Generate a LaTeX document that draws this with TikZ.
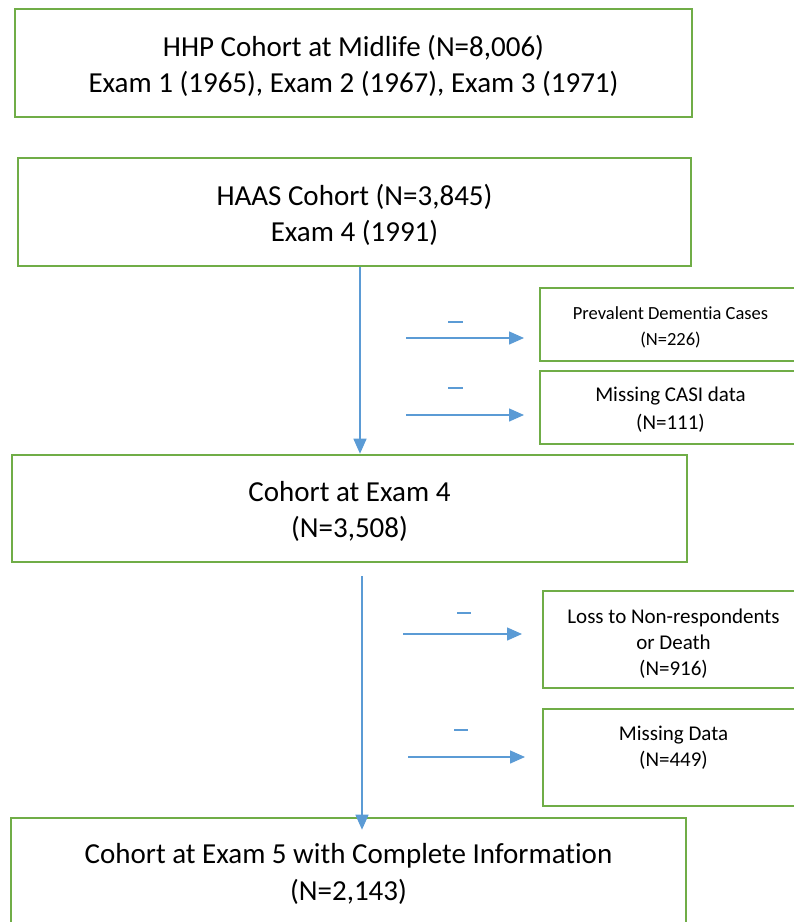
\documentclass[tikz,border=0pt]{standalone}
\usepackage{fontspec}
\setmainfont{Carlito}[Ligatures=NoCommon]
\usetikzlibrary{arrows.meta}
\definecolor{boxgreen}{HTML}{70AD47}
\definecolor{arrblue}{HTML}{5B9BD5}
\begin{document}
\begin{tikzpicture}[x=1pt,y=-1pt,
  box/.style={draw=boxgreen,line width=2.6pt,inner sep=0pt},
  bigtxt/.style={align=center,inner sep=0pt,font=\fontsize{29}{36.5}\selectfont},
  smalltxt/.style={align=center,inner sep=0pt,font=\fontsize{21}{27}\selectfont},
  arr/.style={draw=arrblue,line width=1.4pt,-{Triangle[length=15pt,width=13pt]}},
  tick/.style={draw=arrblue,line width=1.3pt}]
\useasboundingbox (0,0) rectangle (794,922);
\clip (0,0) rectangle (794,922);
% main boxes
\node[box,minimum width=677pt,minimum height=108pt,
  label={[bigtxt,yshift=-3pt]center:{HHP Cohort at Midlife (N=8,006)\\Exam 1 (1965), Exam 2 (1967), Exam 3 (1971)}}] (hhp) at (353.5,63) {};
\node[box,minimum width=673pt,minimum height=108pt,
  label={[bigtxt,yshift=-3pt]center:{HAAS Cohort (N=3,845)\\Exam 4 (1991)}}] (haas) at (354.5,212) {};
\node[box,minimum width=675pt,minimum height=107pt,
  label={[bigtxt,yshift=-3pt]center:{Cohort at Exam 4\\(N=3,508)}}] (ex4) at (349.5,508.5) {};
\node[box,minimum width=675pt,minimum height=108pt,
  label={[bigtxt,yshift=-2pt]center:{Cohort at Exam 5 with Complete Information\\(N=2,143)}}] (ex5) at (348.5,872) {};
% side boxes
\node[box,minimum width=261pt,minimum height=73pt,
  label={[smalltxt,font=\fontsize{18.5}{26}\selectfont,yshift=-2.5pt]center:{Prevalent Dementia Cases\\(N=226)}}] (prev) at (670.5,324.5) {};
\node[box,minimum width=261pt,minimum height=73pt,
  label={[smalltxt,font=\fontsize{21}{28}\selectfont,yshift=-2.5pt]center:{Missing CASI data\\(N=111)}}] (casi) at (670.5,407.5) {};
\node[box,minimum width=261pt,minimum height=97pt,
  label={[smalltxt,font=\fontsize{21}{26}\selectfont,yshift=-4.5pt]center:{Loss to Non-respondents\\or Death\\(N=916)}}] (loss) at (673.5,639.5) {};
\node[box,minimum width=261pt,minimum height=97pt,
  label={[smalltxt,font=\fontsize{21}{25.5}\selectfont,yshift=10pt]center:{Missing Data\\(N=449)}}] (miss) at (673.5,757.5) {};
% vertical arrows
\draw[arr] ([xshift=5.5pt]haas.south) -- ([xshift=5.5pt]haas.south |- ex4.north);
\draw[arr] ([xshift=12.5pt,yshift=-13pt]ex4.south) -- ([xshift=12.5pt,yshift=-13pt]ex4.south |- ex5.north);
% horizontal arrows (free ends)
\coordinate (a1s) at (406,338); \coordinate (a1e) at (524,338);
\coordinate (a2s) at (406,415); \coordinate (a2e) at (524,415);
\coordinate (a3s) at (403,634); \coordinate (a3e) at (522,634);
\coordinate (a4s) at (408,757); \coordinate (a4e) at (525,757);
\draw[arr] (a1s) -- (a1e);
\draw[arr] (a2s) -- (a2e);
\draw[arr] (a3s) -- (a3e);
\draw[arr] (a4s) -- (a4e);
% small dashes
\draw[tick] (448,322) -- (463,322);
\draw[tick] (448,388) -- (463,388);
\draw[tick] (457,613) -- (471,613);
\draw[tick] (454,730) -- (468,730);
\end{tikzpicture}
\end{document}
